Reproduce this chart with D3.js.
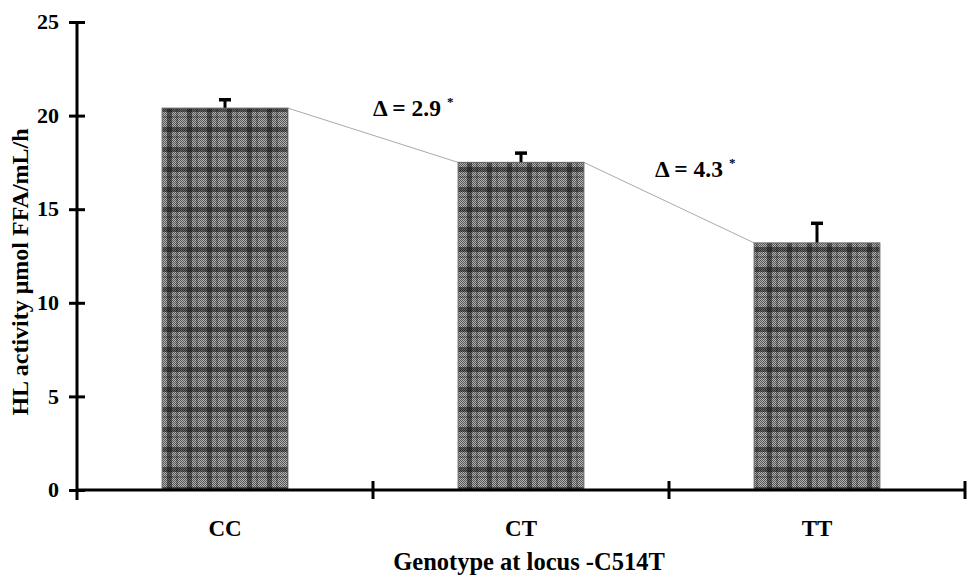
<!DOCTYPE html>
<html>
<head>
<meta charset="utf-8">
<script src="https://cdn.jsdelivr.net/npm/d3@7"></script>
<style>
  html, body { margin: 0; padding: 0; background: #fff; }
  svg { display: block; font-family: "Liberation Serif", "DejaVu Serif", serif; }
</style>
</head>
<body>
<svg id="chart" width="968" height="580"></svg>
<script>
"use strict";

/* ── Data ─────────────────────────────────────────── */
const genotypes = ["CC", "CT", "TT"];
const hlMeans   = [20.4, 17.5, 13.2];
const hlErrors  = [0.5, 0.55, 1.1];
const yTicks    = [0, 5, 10, 15, 20, 25];
const deltaLabels = ["\u0394 = 2.9", "\u0394 = 4.3"];

/* ── Layout ───────────────────────────────────────── */
const svg = d3.select("#chart");
const X0 = 77, X1 = 965, Y0 = 490, Y1 = 22;

const x = d3.scaleBand().domain(genotypes).range([X0, X1])
  .paddingInner(0.575).paddingOuter(0.2875);
const y = d3.scaleLinear().domain([0, 25]).range([Y0, Y1]);

/* ── Plaid pattern ────────────────────────────────── */
const defs = svg.append("defs");
const chk = defs.append("pattern").attr("id", "chk")
  .attr("width", 2).attr("height", 2).attr("patternUnits", "userSpaceOnUse");
chk.append("rect").attr("width", 2).attr("height", 2).attr("fill", "#b4b4b4");
chk.append("rect").attr("width", 1).attr("height", 1).attr("fill", "#555");
chk.append("rect").attr("x", 1).attr("y", 1).attr("width", 1).attr("height", 1).attr("fill", "#555");

const plaid = defs.append("pattern").attr("id", "plaid")
  .attr("width", 20).attr("height", 20).attr("patternUnits", "userSpaceOnUse");
plaid.append("rect").attr("width", 20).attr("height", 20).attr("fill", "url(#chk)");
plaid.append("rect").attr("x", 7).attr("width", 5).attr("height", 20)
  .attr("fill", "#111").attr("opacity", 0.5);
plaid.append("rect").attr("y", 7).attr("width", 20).attr("height", 5)
  .attr("fill", "#111").attr("opacity", 0.5);
plaid.append("rect").attr("x", 16).attr("width", 2).attr("height", 20)
  .attr("fill", "#111").attr("opacity", 0.25);
plaid.append("rect").attr("y", 16).attr("width", 20).attr("height", 2)
  .attr("fill", "#111").attr("opacity", 0.25);

/* ── Connecting line between bar tops ─────────────── */
const pts = [];
genotypes.forEach((g, i) => {
  pts.push([x(g), y(hlMeans[i])]);
  pts.push([x(g) + x.bandwidth(), y(hlMeans[i])]);
});
svg.append("path")
  .attr("d", d3.line()(pts.slice(1, 5)))
  .attr("fill", "none").attr("stroke", "#aaa").attr("stroke-width", 1);

/* ── Error bars (upper half only) ─────────────────── */
genotypes.forEach((g, i) => {
  const cx = x(g) + x.bandwidth() / 2;
  const top = y(hlMeans[i] + hlErrors[i]);
  svg.append("line")
    .attr("x1", cx).attr("x2", cx)
    .attr("y1", y(hlMeans[i])).attr("y2", top)
    .attr("stroke", "#000").attr("stroke-width", 3);
  svg.append("line")
    .attr("x1", cx - 6).attr("x2", cx + 6)
    .attr("y1", top + 1).attr("y2", top + 1)
    .attr("stroke", "#000").attr("stroke-width", 3.5);
});

/* ── Bars ─────────────────────────────────────────── */
svg.append("g").selectAll("rect")
  .data(genotypes)
  .join("rect")
  .attr("x", (d) => x(d))
  .attr("y", (d, i) => y(hlMeans[i]))
  .attr("width", x.bandwidth())
  .attr("height", (d, i) => Y0 - y(hlMeans[i]))
  .attr("fill", "url(#plaid)")
  .attr("stroke", "#666").attr("stroke-width", 1);

/* ── Axes ─────────────────────────────────────────── */
const yAxis = svg.append("g").attr("transform", `translate(${X0},0)`)
  .call(d3.axisLeft(y).tickValues(yTicks).tickSize(8).tickPadding(10).tickFormat(d3.format("d")));
yAxis.selectAll(".tick line").attr("x2", 8).attr("x1", -8)
  .attr("stroke-width", 3);
yAxis.select(".domain").attr("stroke-width", 3)
  .attr("d", `M0,${Y0 + 10}V${Y1}`);
yAxis.selectAll("text")
  .attr("font-family", "Liberation Serif, serif").attr("font-weight", "bold")
  .attr("font-size", 22).attr("fill", "#000").attr("dy", "0.3em");

const xAxis = svg.append("g").attr("transform", `translate(0,${Y0})`)
  .call(d3.axisBottom(x).tickSize(0).tickPadding(30));
xAxis.select(".domain").attr("stroke-width", 3).attr("d", `M${X0},0H${X1}`);
xAxis.selectAll("text")
  .attr("font-family", "Liberation Serif, serif").attr("font-weight", "bold")
  .attr("font-size", 23).attr("fill", "#000");

/* category boundary ticks */
const bounds = genotypes.slice(1).map((g) => x(g) - x.step() * x.paddingInner() / 2)
  .concat([X1]);
xAxis.selectAll(".btick").data(bounds).join("line")
  .attr("x1", (d) => d).attr("x2", (d) => d)
  .attr("y1", -9).attr("y2", 9)
  .attr("stroke", "#000").attr("stroke-width", 3);

/* ── Axis titles ──────────────────────────────────── */
svg.append("text")
  .attr("x", (X0 + X1) / 2 + 8).attr("y", 570)
  .attr("text-anchor", "middle")
  .attr("font-weight", "bold").attr("font-size", 24.5)
  .text("Genotype at locus -C514T");

svg.append("text")
  .attr("transform", "translate(28,272) rotate(-90)")
  .attr("text-anchor", "middle")
  .attr("font-weight", "bold").attr("font-size", 24)
  .text("HL activity \u03bcmol FFA/mL/h");

/* ── Delta annotations ────────────────────────────── */
const annPos = [[373, 116], [655, 177]];
deltaLabels.forEach((t, i) => {
  const txt = svg.append("text")
    .attr("x", annPos[i][0]).attr("y", annPos[i][1])
    .attr("font-weight", "bold").attr("font-size", 23.5)
    .text(t);
  txt.append("tspan").attr("dx", 6).attr("dy", -10)
    .attr("font-size", 13).text("*");
});
</script>
</body>
</html>
